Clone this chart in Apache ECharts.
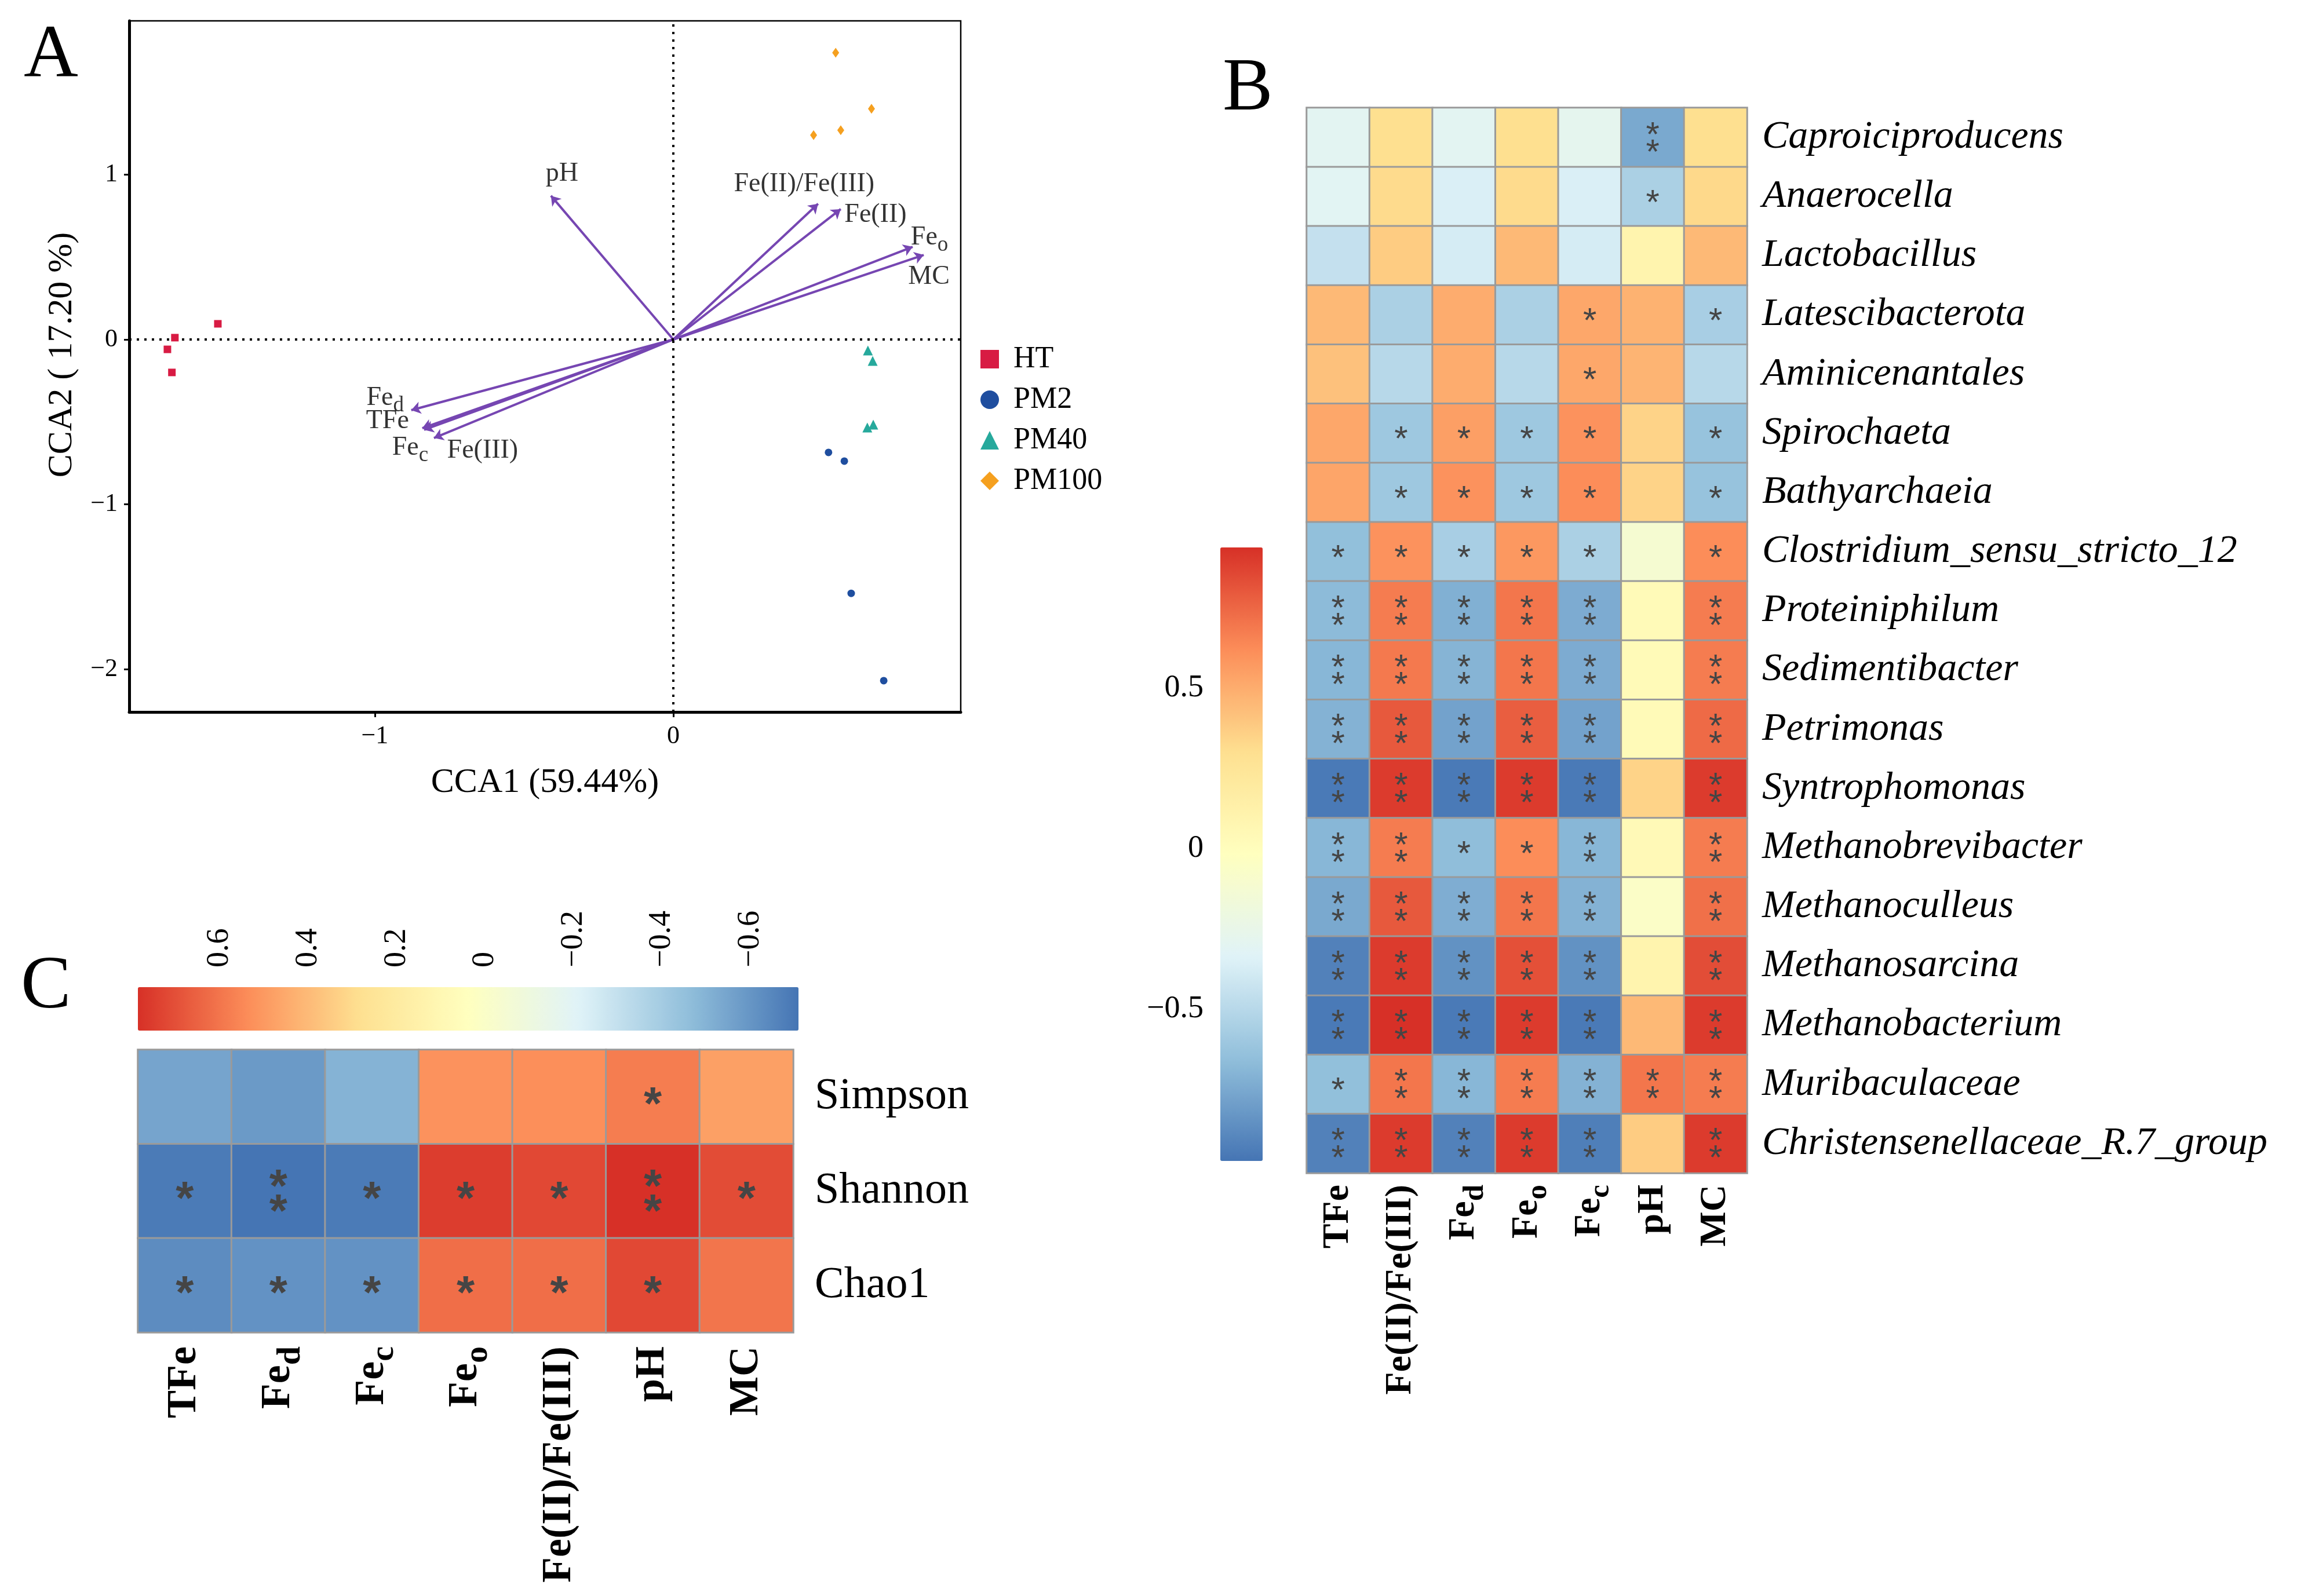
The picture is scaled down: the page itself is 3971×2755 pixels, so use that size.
<!DOCTYPE html>
<html><head><meta charset="utf-8">
<script src="https://cdn.jsdelivr.net/npm/echarts@6/dist/echarts.min.js"></script>
<style>html,body{margin:0;padding:0;background:#fff}#c{width:3971px;height:2755px}</style>
</head><body><div id="c"></div>
<script>
// ---------- Panel A : CCA biplot ----------
const groups = ['HT', 'PM2', 'PM40', 'PM100'];
const ptsHT = [[-1.526, 0.095], [-1.670, 0.011], [-1.695, -0.06], [-1.680, -0.20]];
const ptsPM2 = [[0.520, -0.685], [0.573, -0.738], [0.596, -1.54], [0.705, -2.07]];
const ptsPM40 = [[0.652, -0.067], [0.668, -0.13], [0.670, -0.517], [0.650, -0.534]];
const ptsPM100 = [[0.544, 1.74], [0.664, 1.40], [0.561, 1.27], [0.470, 1.24]];
const envNames = ['pH', 'Fe(II)/Fe(III)', 'Fe(II)', 'Feo', 'MC', 'Fed', 'TFe', 'Fec', 'Fe(III)'];
const envX = [-0.41, 0.485, 0.561, 0.802, 0.839, -0.878, -0.841, -0.802, -0.835];
const envY = [0.872, 0.823, 0.791, 0.562, 0.513, -0.429, -0.538, -0.598, -0.548];
const xTicksA = [-1, 0];
const yTicksA = [-2, -1, 0, 1];

// ---------- Panel B : genus correlation heatmap ----------
const taxaB = ['Caproiciproducens', 'Anaerocella', 'Lactobacillus', 'Latescibacterota', 'Aminicenantales',
  'Spirochaeta', 'Bathyarchaeia', 'Clostridium_sensu_stricto_12', 'Proteiniphilum', 'Sedimentibacter',
  'Petrimonas', 'Syntrophomonas', 'Methanobrevibacter', 'Methanoculleus', 'Methanosarcina',
  'Methanobacterium', 'Muribaculaceae', 'Christensenellaceae_R.7_group'];
const varsB = ['TFe', 'Fe(II)/Fe(III)', 'Fed', 'Feo', 'Fec', 'pH', 'MC'];
const corrB = [
  [-0.30, 0.30, -0.30, 0.30, -0.28, -0.75, 0.30],
  [-0.31, 0.32, -0.36, 0.32, -0.36, -0.55, 0.33],
  [-0.45, 0.38, -0.38, 0.45, -0.38, 0.10, 0.45],
  [0.45, -0.55, 0.50, -0.55, 0.52, 0.48, -0.56],
  [0.42, -0.50, 0.50, -0.50, 0.52, 0.47, -0.50],
  [0.52, -0.60, 0.55, -0.60, 0.60, 0.35, -0.63],
  [0.53, -0.60, 0.60, -0.60, 0.62, 0.35, -0.63],
  [-0.65, 0.60, -0.56, 0.58, -0.55, -0.12, 0.62],
  [-0.67, 0.68, -0.72, 0.70, -0.74, 0.03, 0.68],
  [-0.69, 0.69, -0.70, 0.70, -0.74, 0.03, 0.68],
  [-0.71, 0.80, -0.78, 0.78, -0.78, 0.03, 0.74],
  [-0.95, 0.90, -0.95, 0.90, -0.95, 0.35, 0.90],
  [-0.69, 0.68, -0.66, 0.62, -0.69, 0.04, 0.68],
  [-0.75, 0.80, -0.73, 0.70, -0.71, -0.06, 0.72],
  [-0.92, 0.90, -0.85, 0.83, -0.85, 0.10, 0.84],
  [-0.95, 0.95, -0.95, 0.90, -0.95, 0.45, 0.90],
  [-0.65, 0.70, -0.69, 0.68, -0.71, 0.70, 0.68],
  [-0.92, 0.90, -0.92, 0.90, -0.93, 0.38, 0.90]
];
const sigB = [
  ['', '', '', '', '', '**', ''],
  ['', '', '', '', '', '*', ''],
  ['', '', '', '', '', '', ''],
  ['', '', '', '', '*', '', '*'],
  ['', '', '', '', '*', '', ''],
  ['', '*', '*', '*', '*', '', '*'],
  ['', '*', '*', '*', '*', '', '*'],
  ['*', '*', '*', '*', '*', '', '*'],
  ['**', '**', '**', '**', '**', '', '**'],
  ['**', '**', '**', '**', '**', '', '**'],
  ['**', '**', '**', '**', '**', '', '**'],
  ['**', '**', '**', '**', '**', '', '**'],
  ['**', '**', '*', '*', '**', '', '**'],
  ['**', '**', '**', '**', '**', '', '**'],
  ['**', '**', '**', '**', '**', '', '**'],
  ['**', '**', '**', '**', '**', '', '**'],
  ['*', '**', '**', '**', '**', '**', '**'],
  ['**', '**', '**', '**', '**', '', '**']
];
const rangeB = [-0.973, 0.939];
const ticksBarB = [-0.5, 0, 0.5];

// ---------- Panel C : alpha diversity correlation heatmap ----------
const indicesC = ['Simpson', 'Shannon', 'Chao1'];
const varsC = ['TFe', 'Fed', 'Fec', 'Feo', 'Fe(II)/Fe(III)', 'pH', 'MC'];
const corrC = [
  [-0.55, -0.585, -0.50, 0.52, 0.53, 0.58, 0.48],
  [-0.69, -0.71, -0.69, 0.75, 0.72, 0.785, 0.71],
  [-0.63, -0.61, -0.61, 0.62, 0.62, 0.72, 0.60]
];
const sigC = [
  ['', '', '', '', '', '*', ''],
  ['*', '**', '*', '*', '*', '**', '*'],
  ['*', '*', '*', '*', '*', '*', '']
];
const rangeC = [-0.709, 0.785];
const ticksBarC = [-0.6, -0.4, -0.2, 0, 0.2, 0.4, 0.6];

// ---------- styling ----------
const FONT = 'Liberation Serif';
const PAL = ['#4575B4', '#91BFDB', '#E0F3F8', '#FFFFBF', '#FEE090', '#FC8D59', '#D73027'];
const groupColors = ['#D81B43', '#1F4E9F', '#26A99C', '#F5A01F'];
const groupSymbols = ['rect', 'circle', 'triangle', 'diamond'];
const groupSizes = [13, 13, 17, [12, 17]];
const arrowColor = '#7646B2';
const labelOffsetA = [[19, -38], [-24, -34], [60, 10], [29, -16], [9, 38], [-45, -21], [-60, -12], [-41, 17], [101, 36]];
const SUBS = { Fed: 'd', Feo: 'o', Fec: 'c' };
function sub(v) { return SUBS[v] ? '{m|Fe}{s|' + SUBS[v] + '}' : '{m|' + v + '}'; }
function richFor(size, weight) {
  return {
    m: { fontSize: size, fontFamily: FONT, fontWeight: weight, color: '#000', lineHeight: size },
    s: { fontSize: Math.round(size * 0.8), fontFamily: FONT, fontWeight: weight, color: '#000',
         verticalAlign: 'bottom', lineHeight: Math.round(size * 1.4) }
  };
}
const minus = v => (v < 0 ? '\u2212' : '') + Math.abs(v);

const dataB = [];
taxaB.forEach((t, i) => varsB.forEach((v, j) => dataB.push([j, i, corrB[i][j]])));
const dataC = [];
indicesC.forEach((t, i) => varsC.forEach((v, j) => dataC.push([j, i, corrC[i][j]])));

const ptsAll = [ptsHT, ptsPM2, ptsPM40, ptsPM100];
const groupSeries = groups.map((g, k) => ({
  name: g, type: 'scatter', xAxisIndex: 0, yAxisIndex: 0,
  symbol: groupSymbols[k], symbolSize: groupSizes[k],
  itemStyle: { color: groupColors[k], opacity: 1 },
  data: ptsAll[k], z: 5,
  markLine: k === 0 ? {
    silent: true, symbol: 'none', label: { show: false },
    lineStyle: { type: [4, 9], color: '#000', width: 4 },
    data: [{ xAxis: 0 }, { yAxis: 0 }]
  } : undefined
}));

const chart = echarts.init(document.getElementById('c'));
chart.setOption({
  animation: false,
  backgroundColor: '#fff',
  textStyle: { fontFamily: FONT },
  title: [
    { text: 'A', left: 41, top: 33, padding: 0, textStyle: { fontSize: 130, fontWeight: 'normal', fontFamily: FONT, color: '#000' } },
    { text: 'B', left: 2110, top: 90, padding: 0, textStyle: { fontSize: 130, fontWeight: 'normal', fontFamily: FONT, color: '#000' } },
    { text: 'C', left: 36, top: 1640, padding: 0, textStyle: { fontSize: 130, fontWeight: 'normal', fontFamily: FONT, color: '#000' } }
  ],
  legend: {
    data: groups, orient: 'vertical', left: 1692, top: 594,
    itemWidth: 32, itemHeight: 32, itemGap: 18, padding: 0,
    textStyle: { fontSize: 52, fontFamily: FONT, color: '#000', padding: [0, 0, 0, 20] }
  },
  grid: [
    { left: 223, top: 36, width: 1435, height: 1193, show: true, borderColor: '#000', borderWidth: 2.5, backgroundColor: 'transparent', outerBoundsMode: 'none' },
    { left: 2255, top: 186, width: 760, height: 1839, outerBoundsMode: 'none' },
    { left: 238, top: 1812, width: 1131, height: 488, outerBoundsMode: 'none' },
    { left: 2106, top: 945, width: 73, height: 1059, outerBoundsMode: 'none' },
    { left: 238, top: 1704, width: 1140, height: 75, outerBoundsMode: 'none' }
  ],
  xAxis: [
    { gridIndex: 0, type: 'value', min: -1.823, max: 0.963,
      name: 'CCA1 (59.44%)', nameLocation: 'middle', nameGap: 92,
      nameTextStyle: { fontSize: 60, fontFamily: FONT, color: '#000' },
      axisLine: { show: true, onZero: false, lineStyle: { color: '#000', width: 5 } },
      axisTick: { show: true, customValues: xTicksA, length: 9, lineStyle: { color: '#000', width: 3 } },
      axisLabel: { customValues: xTicksA, formatter: minus, fontSize: 44, fontFamily: FONT, color: '#000', margin: 20 },
      splitLine: { show: false } },
    { gridIndex: 1, type: 'category', data: varsB, position: 'bottom',
      axisLine: { show: false }, axisTick: { show: false }, splitLine: { show: false },
      axisLabel: { interval: 0, rotate: 90, margin: 20, formatter: sub, rich: richFor(64, 'bold') } },
    { gridIndex: 2, type: 'category', data: varsC, position: 'bottom',
      axisLine: { show: false }, axisTick: { show: false }, splitLine: { show: false },
      axisLabel: { interval: 0, rotate: 90, margin: 24, formatter: sub, rich: richFor(72, 'bold') } },
    { gridIndex: 3, type: 'value', min: 0, max: 1, show: false },
    { gridIndex: 4, type: 'value', min: rangeC[0], max: rangeC[1], inverse: true, position: 'top',
      axisLine: { show: false }, axisTick: { show: false }, splitLine: { show: false },
      axisLabel: { customValues: ticksBarC, formatter: minus, rotate: 90, margin: 34, fontSize: 54, fontFamily: FONT, color: '#000' } }
  ],
  yAxis: [
    { gridIndex: 0, type: 'value', min: -2.26, max: 1.933,
      name: 'CCA2 ( 17.20 %)', nameLocation: 'middle', nameGap: 86,
      nameTextStyle: { fontSize: 60, fontFamily: FONT, color: '#000', padding: [0, 0, 0, 40] },
      axisLine: { show: true, onZero: false, lineStyle: { color: '#000', width: 5 } },
      axisTick: { show: true, customValues: yTicksA, length: 9, lineStyle: { color: '#000', width: 3 } },
      axisLabel: { customValues: yTicksA, formatter: minus, fontSize: 44, fontFamily: FONT, color: '#000', margin: 20 },
      splitLine: { show: false } },
    { gridIndex: 1, type: 'category', data: taxaB, inverse: true, position: 'right',
      axisLine: { show: false }, axisTick: { show: false }, splitLine: { show: false },
      axisLabel: { interval: 0, margin: 26, fontSize: 68, fontStyle: 'italic', fontFamily: FONT, color: '#000' } },
    { gridIndex: 2, type: 'category', data: indicesC, inverse: true, position: 'right',
      axisLine: { show: false }, axisTick: { show: false }, splitLine: { show: false },
      axisLabel: { interval: 0, margin: 37, fontSize: 76, fontFamily: FONT, color: '#000' } },
    { gridIndex: 3, type: 'value', min: rangeB[0], max: rangeB[1], position: 'left',
      axisLine: { show: false }, axisTick: { show: false }, splitLine: { show: false },
      axisLabel: { customValues: ticksBarB, formatter: minus, margin: 29, fontSize: 54, fontFamily: FONT, color: '#000' } },
    { gridIndex: 4, type: 'value', min: 0, max: 1, show: false }
  ],
  visualMap: [
    { type: 'continuous', seriesIndex: 6, min: rangeB[0], max: rangeB[1], inRange: { color: PAL },
      orient: 'vertical', left: 2106, top: 945, itemWidth: 73, itemHeight: 1059, padding: 0,
      calculable: false, hoverLink: false, text: null, showLabel: false },
    { type: 'continuous', seriesIndex: 7, min: rangeC[0], max: rangeC[1], inRange: { color: PAL },
      orient: 'horizontal', inverse: true, left: 238, top: 1704, itemWidth: 75, itemHeight: 1140, padding: 0,
      calculable: false, hoverLink: false, text: null, showLabel: false }
  ],
  series: [
    ...groupSeries,
    { type: 'lines', coordinateSystem: 'cartesian2d', xAxisIndex: 0, yAxisIndex: 0, z: 4,
      symbol: ['none', 'arrow'], symbolSize: 16, silent: true,
      lineStyle: { color: arrowColor, width: 4, opacity: 1 },
      data: envX.map((x, i) => ({ coords: [[0, 0], [x, envY[i]]] })) },
    { type: 'scatter', xAxisIndex: 0, yAxisIndex: 0, symbolSize: 0, silent: true, z: 6,
      label: { show: true, position: 'inside', formatter: p => sub(p.name), rich: richFor(46, 'normal') },
      data: envX.map((x, i) => ({ name: envNames[i], value: [x, envY[i]], label: { offset: labelOffsetA[i] } })) },
    { type: 'heatmap', xAxisIndex: 1, yAxisIndex: 1, data: dataB,
      itemStyle: { borderColor: '#9A9A9A', borderWidth: 3 },
      label: { show: true, formatter: p => sigB[p.value[1]][p.value[0]].split('').join('\n'),
               fontSize: 60, lineHeight: 30, fontFamily: 'Liberation Sans', color: '#454545', offset: [0, 13] } },
    { type: 'heatmap', xAxisIndex: 2, yAxisIndex: 2, data: dataC,
      itemStyle: { borderColor: '#9A9A9A', borderWidth: 3 },
      label: { show: true, formatter: p => sigC[p.value[1]][p.value[0]].split('').join('\n'),
               fontSize: 80, lineHeight: 43, fontWeight: 'bold', fontFamily: 'Liberation Sans', color: '#454545', offset: [0, 17] } }
  ]
});
</script>
</body></html>
